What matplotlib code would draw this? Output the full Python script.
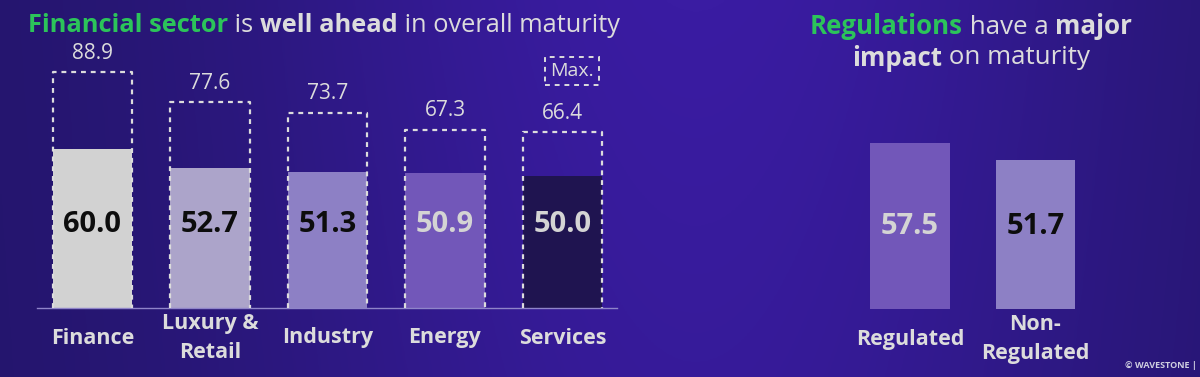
import numpy as np
import matplotlib
matplotlib.use('Agg')
import matplotlib.pyplot as plt
from matplotlib.colors import LinearSegmentedColormap

categories = ['Finance', 'Luxury &\nRetail', 'Industry', 'Energy', 'Services']
avg_scores = [60.0, 52.7, 51.3, 50.9, 50.0]
max_scores = [88.9, 77.6, 73.7, 67.3, 66.4]

reg_categories = ['Regulated', 'Non-\nRegulated']
reg_scores = [57.5, 51.7]

# styling
bar_colors = ['#d2d2d2', '#aca4ca', '#8d80c5', '#7257b9', '#1f1450']
value_colors = ['#0d0d0d', '#0d0d0d', '#0d0d0d', '#d4d4d4', '#d4d4d4']
reg_colors = ['#7257b9', '#8d80c5']
reg_value_colors = ['#d4d4d4', '#0d0d0d']

GREEN = '#2cc45a'
LIGHT = '#dcdcdc'
FONT = 'Open Sans'

W, H = 1200, 377
plt.rcParams['font.family'] = [FONT, 'DejaVu Sans']

fig = plt.figure(figsize=(W / 100, H / 100), dpi=100)

# background gradient
bg = fig.add_axes([0, 0, 1, 1], zorder=-10)
xx = np.linspace(0, 1, 400)
yy = np.linspace(0, 1, 120)
X, Y = np.meshgrid(xx, yy)
field = np.exp(-((X - 0.58) / 0.38) ** 2) * (0.85 + 0.15 * Y)
cmap = LinearSegmentedColormap.from_list('bg', ['#23156a', '#3a1ca2'])
bg.imshow(field, aspect='auto', extent=[0, 1, 0, 1], cmap=cmap, origin='lower', vmin=0, vmax=1)
bg.axis('off')


def px(x, y):
    return x / W, 1 - y / H


def rich_line(parts, x, y, size, center=False):
    # draw a line of text made of coloured / bold pieces
    renderer = fig.canvas.get_renderer()
    texts = []
    cur = x
    for s, color, weight in parts:
        t = fig.text(*px(cur, y), s, color=color, fontweight=weight,
                     fontsize=size, va='center', ha='left')
        cur += t.get_window_extent(renderer).width
        texts.append(t)
    if center:
        shift = (cur - x) / 2
        for t in texts:
            tx, ty = t.get_position()
            t.set_position((tx - shift / W, ty))
    return texts


# ---- left chart: maturity by sector ----
scale = 2.65  # px per point
ax = fig.add_axes([37 / W, 69 / H, 580 / W, 308 / H])
ax.set_facecolor('none')
x = np.arange(len(categories))
bw = 0.68
ax.bar(x, avg_scores, width=bw, color=bar_colors, zorder=2)

label_y = 84 / scale
for i, (v, m) in enumerate(zip(avg_scores, max_scores)):
    ax.plot([i - bw / 2, i - bw / 2, i + bw / 2, i + bw / 2], [0, m, m, 0],
            color=LIGHT, lw=1.6, ls=(0, (2.2, 2.2)), zorder=3)
    ax.annotate(f'{m:.1f}', (i, m), xytext=(0, 6), textcoords='offset points',
                ha='center', va='bottom', fontsize=15, color=LIGHT)
    ax.text(i, label_y, f'{v:.1f}', ha='center', va='center', fontsize=21,
            fontweight='bold', color=value_colors[i], zorder=4)
    ax.annotate(categories[i], (i, 0), xytext=(0, -21.6), textcoords='offset points',
                ha='center', va='center', fontsize=15.5, fontweight='bold',
                color=LIGHT, linespacing=1.45)

ax.text(4.08, 237 / scale, 'Max.', ha='center', va='center', fontsize=14, color=LIGHT,
        bbox=dict(boxstyle='square,pad=0.25', fc='none', ec=LIGHT, lw=1.4,
                  ls=(0, (2.5, 2.5))))

ax.set_xlim(-0.472, 4.464)
ax.set_ylim(0, 308 / scale)
for s in ['top', 'left', 'right']:
    ax.spines[s].set_visible(False)
ax.spines['bottom'].set_color('#8f84c9')
ax.spines['bottom'].set_linewidth(1.0)
ax.set_xticks([])
ax.set_yticks([])

# ---- right chart: regulated vs not ----
ax2 = fig.add_axes([840 / W, 68 / H, 270 / W, 209 / H])
ax2.set_facecolor('none')
x2 = np.arange(len(reg_categories))
ax2.bar(x2, reg_scores, width=0.63, color=reg_colors, zorder=2)
for i, v in enumerate(reg_scores):
    ax2.text(i, 83 / 2.89, f'{v:.1f}', ha='center', va='center', fontsize=21,
             fontweight='bold', color=reg_value_colors[i], zorder=4)
    ax2.annotate(reg_categories[i], (i, 0), xytext=(0, -21.6), textcoords='offset points',
                 ha='center', va='center', fontsize=15.5, fontweight='bold',
                 color=LIGHT, linespacing=1.45)
ax2.set_xlim(-0.558, 1.594)
ax2.set_ylim(0, 209 / 2.89)
ax2.axis('off')

# ---- titles ----
rich_line([('Financial sector', GREEN, 'bold'), (' is ', LIGHT, 'normal'),
           ('well ahead', LIGHT, 'bold'), (' in overall maturity', LIGHT, 'normal')],
          28, 25, 18.3)
rich_line([('Regulations', GREEN, 'bold'), (' have a ', LIGHT, 'normal'),
           ('major', LIGHT, 'bold')], 971, 27, 18.6, center=True)
rich_line([('impact', LIGHT, 'bold'), (' on maturity', LIGHT, 'normal')],
          971, 58, 18.6, center=True)

fig.text(*px(1197, 365), '\u00a9 WAVESTONE |', ha='right', va='center',
         fontsize=6.5, color='#cfcfe0', fontweight='bold')

fig.savefig('out.png', dpi=100, facecolor='#23156a')
